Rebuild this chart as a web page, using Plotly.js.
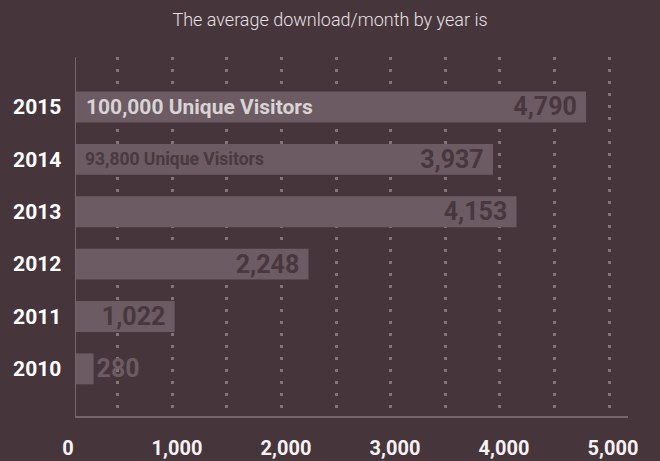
<!DOCTYPE html>
<html>
<head>
<meta charset="utf-8">
<script src="https://cdn.plot.ly/plotly-3.0.1.min.js"></script>
<style>
  html, body { margin: 0; padding: 0; background: #46353b; }
  #chart { width: 660px; height: 461px; }
</style>
</head>
<body>
<div id="chart"></div>
<script>
// ---- data ----
const years = ['2010', '2011', '2012', '2013', '2014', '2015'];
const downloads = [280, 1022, 2248, 4153, 3937, 4790];
const visitors = [null, null, null, null, 93800, 100000];
const tickLabels = ['0', '1,000', '2,000', '3,000', '4,000', '5,000'];
const tickValues = [0, 1000, 2000, 3000, 4000, 5000];
const titleText = 'The average download/month by year is';

// ---- styles ----
const BG = '#46353b';
const BAR = '#6c5b62';
const DARK_TXT = '#48373d';
const FONT = 'Roboto, "Liberation Sans", sans-serif';

const bars = {
  type: 'bar',
  orientation: 'h',
  y: years,
  x: downloads,
  marker: { color: BAR, line: { width: 0 } },
  texttemplate: '%{x:,}\u00a0',
  textposition: downloads.map(v => (v < 500 ? 'outside' : 'inside')),
  insidetextanchor: 'end',
  constraintext: 'none',
  textangle: 0,
  insidetextfont: { family: FONT, size: 25, weight: 700, color: DARK_TXT },
  outsidetextfont: { family: FONT, size: 25, weight: 700, color: BAR },
  hoverinfo: 'skip',
  showlegend: false
};

// carrier (draws nothing) so the label axis gets its own subplot
const labelAxisCarrier = {
  type: 'scatter', mode: 'none',
  x: tickValues, y: tickValues.map(() => years[0]),
  xaxis: 'x2', yaxis: 'y',
  hoverinfo: 'skip', showlegend: false
};

const annotations = [];
visitors.forEach((v, i) => {
  if (v == null) return;
  const big = v >= 100000;
  annotations.push({
    xref: 'paper', x: 0, xanchor: 'left', xshift: big ? 8 : 7,
    yref: 'y', y: i, yanchor: 'middle',
    text: v.toLocaleString('en-US') + ' Unique Visitors',
    showarrow: false,
    font: { family: FONT, size: big ? 21 : 17.5, weight: 700, color: big ? '#d9d3d5' : '#4a393f' }
  });
});

const layout = {
  width: 660, height: 461,
  paper_bgcolor: BG, plot_bgcolor: BG,
  margin: { l: 76, r: 32, t: 57, b: 45 },
  bargap: 0.41,
  title: {
    text: titleText,
    font: { family: FONT, size: 18, weight: 300, color: '#e6e0e2' },
    x: 0.5, xref: 'container', xanchor: 'center',
    y: 1 - 19.5 / 461, yref: 'container', yanchor: 'middle'
  },
  xaxis: {
    range: [119, 5174],
    showline: true, linecolor: '#76666c', linewidth: 1.5,
    zeroline: false,
    showgrid: true, gridcolor: '#85757b', gridwidth: 3, griddash: '2.6px,9.4px',
    tick0: 0, dtick: 500,
    showticklabels: false, ticks: '',
    fixedrange: true
  },
  xaxis2: {
    overlaying: 'x', anchor: 'y', side: 'bottom',
    range: [-9.2, 5055],
    tickmode: 'array', tickvals: tickValues, ticktext: tickLabels,
    ticklabelshift: -9,
    ticks: '', ticklabelstandoff: 18,
    showgrid: false, zeroline: false, showline: false,
    tickfont: { family: FONT, size: 20, weight: 700, color: '#f6f1f3' },
    fixedrange: true
  },
  yaxis: {
    type: 'category',
    categoryorder: 'array', categoryarray: years,
    range: [-0.9, 5.954],
    showline: true, linecolor: '#76666c', linewidth: 1.5,
    showgrid: false, zeroline: false,
    ticks: '', ticklabelstandoff: 9,
    tickfont: { family: FONT, size: 21, weight: 700, color: '#ffffff' },
    fixedrange: true
  },
  annotations: annotations
};

Plotly.newPlot('chart', [bars, labelAxisCarrier], layout, { displayModeBar: false, staticPlot: true });
</script>
</body>
</html>
